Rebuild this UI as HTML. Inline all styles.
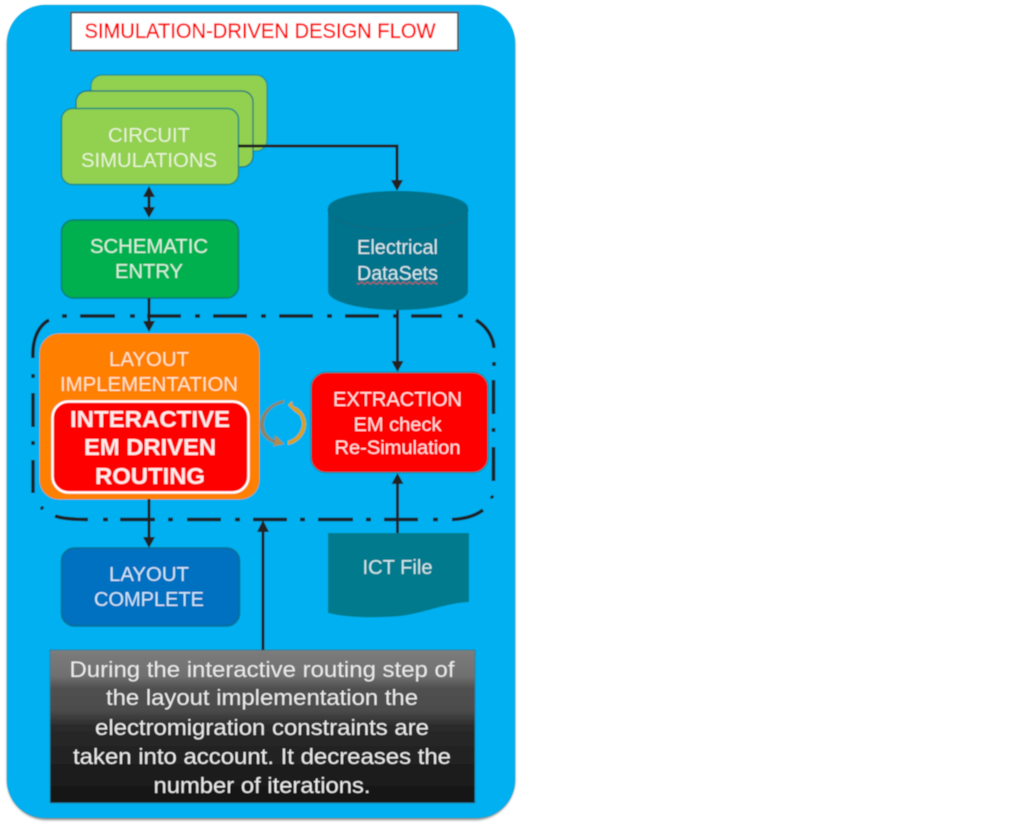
<!DOCTYPE html>
<html><head><meta charset="utf-8">
<style>html,body{margin:0;padding:0;background:#fff}svg{display:block}
text{font-family:"Liberation Sans",sans-serif;text-anchor:middle}</style></head>
<body>
<svg width="1013" height="824" viewBox="0 0 1013 824" xmlns="http://www.w3.org/2000/svg">
<defs>
<linearGradient id="g" x1="0" y1="0" x2="0" y2="1">
<stop offset="0" stop-color="#7c7c7c"/><stop offset=".17" stop-color="#707070"/><stop offset=".25" stop-color="#505050"/><stop offset=".39" stop-color="#4c4c4c"/><stop offset=".5" stop-color="#2a2a2a"/><stop offset="1" stop-color="#151515"/>
</linearGradient>
<filter id="b" x="-2%" y="-2%" width="104%" height="104%"><feGaussianBlur stdDeviation="1.2"/></filter>
<filter id="s" x="-2%" y="-2%" width="104%" height="104%"><feGaussianBlur stdDeviation="0.4"/></filter>
</defs>
<rect x="7" y="6" width="508" height="814" rx="40" fill="#8a8a8a" filter="url(#b)"/>
<g filter="url(#s)">
<rect x="7" y="5" width="508" height="813" rx="38" fill="#00b0f0"/>
<rect x="71" y="12.500" width="387" height="38" fill="#fff" stroke="#555" stroke-width="1.800"/>
<text x="260" y="38" font-size="21" fill="#ff0000" stroke="#ff0000" stroke-width="0.350" textLength="351" lengthAdjust="spacingAndGlyphs">SIMULATION-DRIVEN DESIGN FLOW</text>

<rect x="91" y="75" width="176" height="76" rx="11" fill="#92d050" stroke="#1f8f90" stroke-width="1.200"/>
<rect x="76" y="91" width="177" height="76" rx="11" fill="#92d050" stroke="#176f80" stroke-width="1.200"/>
<rect x="61.500" y="108.500" width="177" height="76" rx="11" fill="#92d050" stroke="#1f8f80" stroke-width="1.500"/>
<text font-size="20" fill="#e7f3d4" x="149" y="142" textLength="82" lengthAdjust="spacingAndGlyphs">CIRCUIT</text>
<text font-size="20" fill="#e7f3d4" x="149" y="167" textLength="136" lengthAdjust="spacingAndGlyphs">SIMULATIONS</text>

<rect x="61.500" y="220" width="177" height="78" rx="12" fill="#00b050" stroke="#0a7f70" stroke-width="1.500"/>
<text font-size="20" fill="#d4f0df" x="149" y="253" textLength="118" lengthAdjust="spacingAndGlyphs">SCHEMATIC</text>
<text font-size="20" fill="#d4f0df" x="149" y="278" textLength="68" lengthAdjust="spacingAndGlyphs">ENTRY</text>

<path d="M328 208 V291 C328 302 360 310 398 310 C436 310 468 302 468 291 V208 C468 198 436 191 398 191 C360 191 328 198 328 208Z" fill="#05738c"/>
<path d="M328 209 C328 221 360 230 398 230 C436 230 468 221 468 209" fill="none" stroke="#0a6a80" stroke-width="1.200"/>
<text font-size="20" fill="#d6e8ec" x="397.500" y="254" textLength="81" lengthAdjust="spacingAndGlyphs">Electrical</text>
<text font-size="20" fill="#d6e8ec" x="397.500" y="280" textLength="81" lengthAdjust="spacingAndGlyphs">DataSets</text>
<path d="M357 283 q1.500 2 3 0 t3 0 t3 0 t3 0 t3 0 t3 0 t3 0 t3 0 t3 0 t3 0 t3 0 t3 0 t3 0 t3 0 t3 0 t3 0 t3 0 t3 0 t3 0 t3 0 t3 0 t3 0 t3 0 t3 0 t3 0 t3 0 t2 0" fill="none" stroke="#c8505a" stroke-width="1"/>

<rect x="40" y="334" width="219" height="165" rx="19" fill="#ff8000" stroke="#e98a20" stroke-width="1"/>
<text font-size="20" fill="#ffe3c4" x="149" y="366" textLength="80" lengthAdjust="spacingAndGlyphs">LAYOUT</text>
<text font-size="20" fill="#ffe3c4" x="149" y="391" textLength="178" lengthAdjust="spacingAndGlyphs">IMPLEMENTATION</text>
<rect x="52.500" y="401.500" width="196" height="91" rx="16" fill="#f00" stroke="#fff" stroke-width="2.500"/>
<g font-size="23" font-weight="bold" fill="#ffeaea">
<text x="150" y="427" textLength="160" lengthAdjust="spacingAndGlyphs">INTERACTIVE</text>
<text x="150" y="455" textLength="132" lengthAdjust="spacingAndGlyphs">EM DRIVEN</text>
<text x="150" y="484" textLength="110" lengthAdjust="spacingAndGlyphs">ROUTING</text>
</g>

<rect x="311" y="372.500" width="177" height="100" rx="15" fill="#f00" stroke="#0a7f90" stroke-width="1.200"/>
<text font-size="20" fill="#ffe0e0" x="397.500" y="406" textLength="129" lengthAdjust="spacingAndGlyphs">EXTRACTION</text>
<text font-size="19" fill="#ffe0e0" x="397.500" y="431" textLength="88" lengthAdjust="spacingAndGlyphs">EM check</text>
<text font-size="19" fill="#ffe0e0" x="397.500" y="454" textLength="126" lengthAdjust="spacingAndGlyphs">Re-Simulation</text>

<path d="M281 401 C268 403 261 413 261 423 C261 430 266 436 272 438 L271 433 L281 442 L270 444 L271 441 C262 438 257 431 257 423 C257 411 267 401 281 398Z" transform="translate(3 2)" fill="#8c8468"/>
<path d="M276 436 L284 444 L274 446Z" fill="#b08a50"/>
<path d="M288 405 L292 401 L293 406 C302 409 306 417 306 424 C306 434 298 443 288 445 L288 441 C296 439 302 431 302 424 C302 417 298 413 295 412Z" fill="#d9a020"/>

<rect x="61.500" y="548" width="178" height="78" rx="13" fill="#0070c0" stroke="#0a6f90" stroke-width="1.500"/>
<text font-size="20" fill="#cfe4f4" x="149" y="581" textLength="80" lengthAdjust="spacingAndGlyphs">LAYOUT</text>
<text font-size="20" fill="#cfe4f4" x="149" y="606" textLength="110" lengthAdjust="spacingAndGlyphs">COMPLETE</text>

<path d="M328 533 H469 V602 C445 603 425 613 400 616 C375 618 350 618 328 613Z" fill="#047a8c"/>
<text font-size="20" fill="#cde6ea" x="397.500" y="574" textLength="70" lengthAdjust="spacingAndGlyphs">ICT File</text>

<rect x="50" y="650" width="425" height="153" fill="url(#g)" stroke="#1a7f9a" stroke-width="1"/>
<g font-size="22" fill="#eaeaea">
<text x="262" y="677" textLength="385" lengthAdjust="spacingAndGlyphs">During the interactive routing step of</text>
<text x="262" y="705" textLength="312" lengthAdjust="spacingAndGlyphs">the layout implementation the</text>
<text x="262" y="735" textLength="334" lengthAdjust="spacingAndGlyphs">electromigration constraints are</text>
<text x="262" y="764" textLength="378" lengthAdjust="spacingAndGlyphs">taken into account. It decreases the</text>
<text x="262" y="793" textLength="217" lengthAdjust="spacingAndGlyphs">number of iterations.</text>
</g>

<path fill="none" stroke="#1c2226" stroke-width="3.500" d="
M80 316H115M130 316H135M147 316H181M195 316H200M213 316H247M261 316H266M279 316H313M327 316H332M345 316H379M393 316H398M411 316H442M458 316H463M62 316H67
M476 320C486 326 493 336 494 348M494 362V366M493.500 380V414M493.500 428V432M493.500 447V481M491 496L493 498
M483 510C475 516 464 519 452 519.500M433 519.500H438M384 519.500H418M366 519.500H371M318 519.500H353M300 519.500H305M253 519.500H287M235 519.500H240M187 519.500H221M168 519.500H173M120 519.500H155M103 519.500H108
M88 519.500C76 519.500 64 519 55 516M41 507L43 509M33 460V493M33 441V445M33 393V427M33 374V378
M33 358C32 340 38 326 49 320"/>

<g stroke="#222" stroke-width="3" fill="none">
<path d="M238 146 H397 V180"/>
<path d="M149 192 V212"/>
<path d="M149 298 V322"/>
<path d="M397.500 310 V362"/>
<path d="M149 499 V538"/>
<path d="M397.500 533 V482"/>
<path d="M263 650 V530"/>
</g>
<g fill="#222">
<path d="M391 180 H403 L397 191Z"/>
<path d="M143 197 H155 L149 186Z"/>
<path d="M143 207 H155 L149 218Z"/>
<path d="M143 321 H155 L149 332Z"/>
<path d="M391.500 361 H403.500 L397.500 372Z"/>
<path d="M143 537 H155 L149 548Z"/>
<path d="M391.500 484 H403.500 L397.500 473Z"/>
<path d="M257 532 H269 L263 520Z"/>
</g>
</g>
</svg>
</body></html>
